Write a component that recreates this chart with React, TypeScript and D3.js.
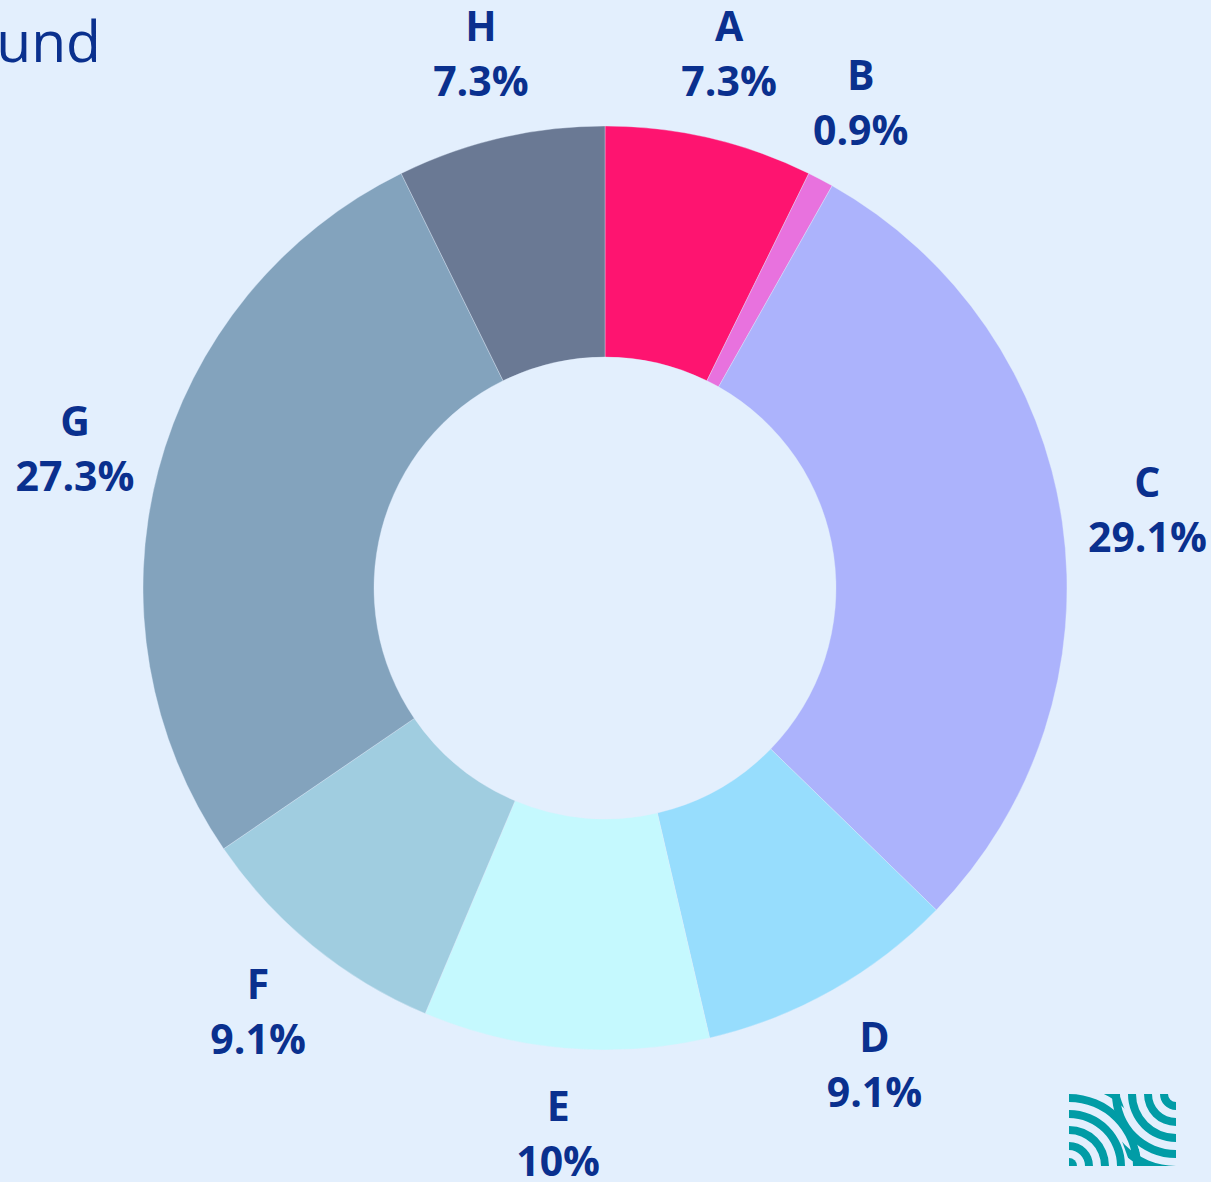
import React, { useEffect } from 'react';
import * as d3 from 'd3';

const categories = ['A', 'B', 'C', 'D', 'E', 'F', 'G', 'H'];
const counts = [8, 1, 32, 10, 11, 10, 30, 8];
const sliceColors = ['#fe1470', '#e872de', '#acb3fc', '#97ddfd', '#c5f9fe', '#a0cde0', '#83a3bd', '#6a7994'];

const W = 1211;
const H = 1182;
const BG = '#e3effd';
const TEXT = '#0a308e';
const TEAL = '#019ca6';

const Logo = () => {
  // small mark in the lower right corner: two sets of quarter rings
  const x0 = 1069, y0 = 1094, w = 107, h = 72;
  const ring = d3.arc();
  const leftRings = [[0, 8], [16, 24], [32, 40], [48, 56], [64, 72], [80, 88], [96, 104]];
  const rightRings = [[8, 16], [24, 32], [40, 48], [56, 64], [72, 80], [88, 96], [104, 112]];
  return (
    <g>
      <defs>
        <clipPath id="logo-left">
          <polygon points={`${x0},${y0} ${x0 + 50},${y0} ${x0 + 76},${y0 + h} ${x0},${y0 + h}`} />
        </clipPath>
        <clipPath id="logo-right">
          <polygon points={`${x0 + 36},${y0} ${x0 + w},${y0} ${x0 + w},${y0 + h} ${x0 + 62},${y0 + h}`} />
        </clipPath>
      </defs>
      <g clipPath="url(#logo-left)">
        <g transform={`translate(${x0},${y0 + h})`}>
          {leftRings.map(([a, b], i) => (
            <path key={i} fill={TEAL}
              d={ring({ innerRadius: a, outerRadius: b, startAngle: 0, endAngle: Math.PI / 2 }) as string} />
          ))}
        </g>
      </g>
      <g clipPath="url(#logo-right)">
        <g transform={`translate(${x0 + w},${y0})`}>
          {rightRings.map(([a, b], i) => (
            <path key={i} fill={TEAL}
              d={ring({ innerRadius: a, outerRadius: b, startAngle: Math.PI, endAngle: Math.PI * 1.5 }) as string} />
          ))}
        </g>
      </g>
    </g>
  );
};

const App = () => {
  useEffect(() => {
    document.body.style.margin = '0';
    document.body.style.background = BG;
  }, []);

  const cx = 605;
  const cy = 588;
  const outer = 462;
  const inner = 231;
  const labelR = 548;

  const total = d3.sum(counts);
  const data = categories.map((c, i) => ({ name: c, value: counts[i], color: sliceColors[i] }));
  const pie = d3.pie<any>().value(d => d.value).sort(null);
  const arcs = pie(data);
  const arc = d3.arc<any>().innerRadius(inner).outerRadius(outer);
  const labelArc = d3.arc<any>().innerRadius(labelR).outerRadius(labelR);
  const fmt = (v: number) => {
    const p = Math.round((v / total) * 1000) / 10;
    return `${p}%`;
  };

  return (
    <svg width={W} height={H} style={{ display: 'block' }}
      fontFamily="'Open Sans', 'Noto Sans', sans-serif">
      <rect width={W} height={H} fill={BG} />
      <text x={101} y={62} textAnchor="end" fontSize={57} fill={TEXT}>und</text>
      <g transform={`translate(${cx},${cy})`}>
        {arcs.map((a, i) => (
          <path key={i} d={arc(a) as string} fill={a.data.color} stroke={BG} strokeWidth={0.6} strokeOpacity={0.6} />
        ))}
        {arcs.map((a, i) => {
          const [lx, ly] = labelArc.centroid(a);
          return (
            <g key={'l' + i} fontWeight={700} fontSize={41} fill={TEXT} textAnchor="middle">
              <text x={lx} y={ly - 13}>{a.data.name}</text>
              <text x={lx} y={ly + 42}>{fmt(a.data.value)}</text>
            </g>
          );
        })}
      </g>
      <Logo />
    </svg>
  );
};

export default App;
